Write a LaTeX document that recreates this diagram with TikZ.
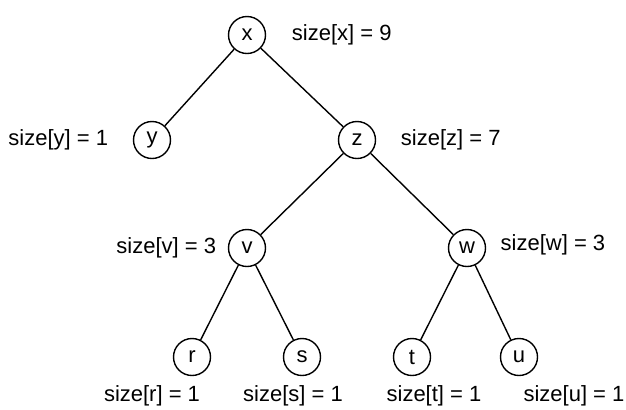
\documentclass[tikz,border=0pt]{standalone}
\usepackage{fontspec}
\setmainfont{Liberation Sans}
\usepackage{tikz}
\usetikzlibrary{positioning}

\begin{document}
\begin{tikzpicture}[x=0.5pt,y=-0.5pt,font=\fontsize{11}{13}\selectfont,line width=0.7pt, vertex/.style={circle,draw,minimum size=18.5pt,inner sep=0pt}, size label/.style={inner sep=0pt}]
\useasboundingbox (0,0) rectangle (626,409);
\node[vertex] (x) at (247,35) {x};
\node[vertex] (y) at (152,140) {y};
\node[vertex] (z) at (357,140) {z};
\node[vertex] (v) at (247,248) {v};
\node[vertex] (w) at (467,248) {w};
\node[vertex] (r) at (192,357) {r};
\node[vertex] (s) at (302,357) {s};
\node[vertex] (t) at (412,357) {t};
\node[vertex] (u) at (519,357) {u};

\node[size label] (size x) [right=12.5pt of x] {size[x] = 9};
\node[size label] (size y) [left=12pt of y] {size[y] = 1};
\node[size label] (size z) [right=12pt of z] {size[z] = 7};
\node[size label] (size v) [left=5.5pt of v] {size[v] = 3};
\node[size label, anchor=west] (size w) at (500,245) {size[w] = 3};
\node[size label] (size r) at (152,396) {size[r] = 1};
\node[size label] (size s) at (293,396) {size[s] = 1};
\node[size label] (size t) at (434,396) {size[t] = 1};
\node[size label] (size u) at (574,396) {size[u] = 1};

\path (x) edge (y)
          edge (z)
      (z) edge (v)
          edge (w)
      (v) edge (r)
          edge (s)
      (w) edge (t)
          edge (u);

\end{tikzpicture}
\end{document}
